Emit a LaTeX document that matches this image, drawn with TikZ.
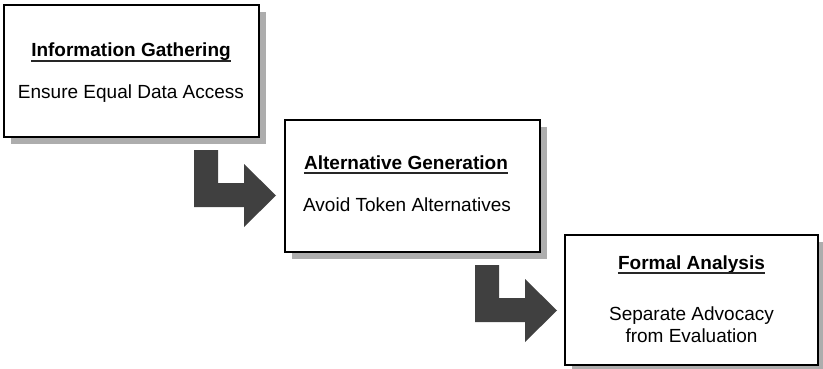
\documentclass[tikz,border=0pt]{standalone}
\usepackage{fontspec}
\setmainfont{Liberation Sans}
\usetikzlibrary{shadows}
\definecolor{arrowgray}{HTML}{404040}
\definecolor{shadowgray}{HTML}{ADADAD}
\begin{document}
\begin{tikzpicture}[x=1pt,y=-1pt,
  stagebox/.style={draw=black, line width=1.6pt, fill=white, inner sep=0pt,
    minimum width=255pt, minimum height=132pt,
    drop shadow={shadow xshift=7pt, shadow yshift=-7pt, fill=shadowgray, opacity=1}},
  heading/.style={font=\fontsize{19}{22}\selectfont\bfseries, inner sep=0pt, anchor=base},
  detail/.style={font=\fontsize{19}{22}\selectfont, inner sep=0pt, anchor=base},
  underbar/.style={draw=black!85, line width=1.3pt},
  bentarrow/.pic={
    \fill[arrowgray] (0,0) -- (24,0) -- (24,33) -- (50,33) -- (50,14) -- (82,45.5)
      -- (50,77) -- (50,57) -- (0,57) -- cycle;
  }]
\useasboundingbox (0,0) rectangle (823,369);

% stage boxes
\node[stagebox] (gather) at (131.5,71) {};
\node[stagebox] (generate) at (412.5,186) {};
\node[stagebox, minimum width=253pt, minimum height=130pt] (analyse) at (691.5,300) {};

% bent block arrows between the stages
\coordinate (step1) at (194,150);
\coordinate (step2) at (475,265);
\pic at (step1) {bentarrow};
\pic at (step2) {bentarrow};

% stage texts
\node[heading] (gatherTitle) at (131,57) {Information Gathering};
\node[detail] (gatherText) at (131,99) {Ensure Equal Data Access};

\node[heading] (generateTitle) at (406,169) {Alternative Generation};
\node[detail] (generateText) at (407,211) {Avoid Token Alternatives};

\node[heading] (analyseTitle) at (691.5,269) {Formal Analysis};
\node[detail] (analyseText1) at (691.5,320) {Separate Advocacy};
\node[detail] (analyseText2) at (691.5,342) {from Evaluation};

% title underlines
\foreach \t in {gatherTitle,generateTitle,analyseTitle}
  \draw[underbar] ([yshift=-4pt]\t.base west) -- ([yshift=-4pt]\t.base east);
\end{tikzpicture}
\end{document}
